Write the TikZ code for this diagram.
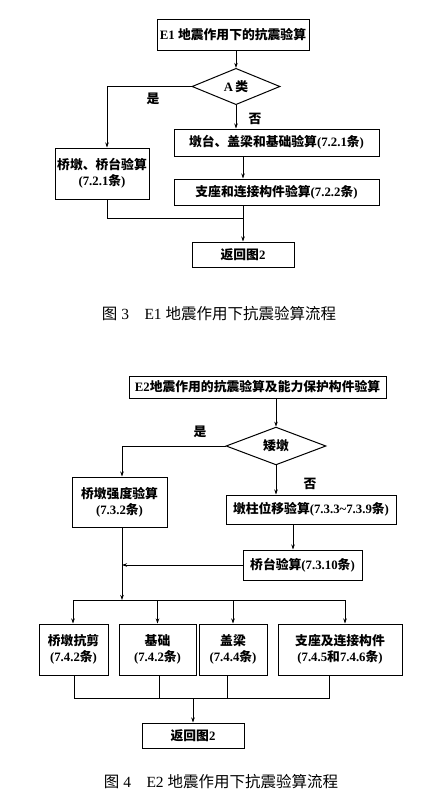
\documentclass[tikz,border=0pt]{standalone}
\usepackage{fontspec}
\setmainfont{Liberation Serif}
\newfontfamily\cjk{Noto Sans CJK SC}
\usetikzlibrary{shapes.geometric,arrows.meta}
\newcommand\zh[1]{{\cjk #1}}
\begin{document}
\begin{tikzpicture}[x=1pt,y=-1pt,
  box/.style={draw, line width=1pt, inner sep=0pt, align=center,
    font=\fontsize{12.8}{16}\selectfont\bfseries},
  dia/.style={diamond, draw, line width=1pt, inner sep=0pt,
    font=\fontsize{12.8}{16}\selectfont\bfseries},
  lbl/.style={inner sep=0pt, font=\fontsize{12.8}{16}\selectfont\bfseries},
  captxt/.style={inner sep=0pt, font=\fontsize{15.5}{18}\selectfont},
  arr/.style={-{Stealth[length=5pt,width=3.5pt]}, line width=0.7pt},
  ln/.style={line width=0.7pt}]
\path[use as bounding box, fill=white] (0,0) rectangle (441,811);

% ---------- Figure 3 ----------
\node[box, minimum width=152pt, minimum height=31pt] (e1) at (233,34.5) {E1 \zh{地震作用下的抗震验算}};
\node[dia, minimum width=88pt, minimum height=35pt] (dA) at (236,86.5) {A\,\zh{类}};
\node[box, minimum width=94pt, minimum height=51pt] (lb) at (102,173.5) {\zh{桥墩、桥台验算}\\(7.2.1\zh{条})};
\node[box, minimum width=205pt, minimum height=27pt] (b1) at (276.5,142.5) {\zh{墩台、盖梁和基础验算}(7.2.1\zh{条})};
\node[box, minimum width=205pt, minimum height=26pt] (b2) at (276.5,192) {\zh{支座和连接构件验算}(7.2.2\zh{条})};
\node[box, minimum width=102pt, minimum height=25pt] (r1) at (243,254.5) {\zh{返回图}2};
\node[captxt] (c3) at (219,314) {\zh{图} 3\quad E1 \zh{地震作用下抗震验算流程}};

\node[lbl] (yes1) at (153,99) {\zh{是}};
\node[lbl] (no1) at (255,119) {\zh{否}};

\draw[arr] (dA.north |- e1.south) -- (dA.north);
\coordinate (yA) at (107,86.5);
\draw[arr] (dA.west) -- (yA) -- (yA |- lb.north);
\draw[arr] (dA.south) -- (dA.south |- b1.north);
\coordinate (v1) at (243,170);
\draw[arr] (v1 |- b1.south) -- (v1 |- b2.north);
\draw[arr] (r1.north |- b2.south) -- (r1.north);
\coordinate (j1) at (243,218);
\draw[ln] (yA |- lb.south) -- (yA |- j1) -- (j1);

% ---------- Figure 4 ----------
\node[box, minimum width=257pt, minimum height=22pt] (e2) at (257.5,387) {E2\zh{地震作用的抗震验算及能力保护构件验算}};
\node[dia, minimum width=100pt, minimum height=36pt] (dB) at (276,446) {\zh{矮墩}};
\node[box, minimum width=95pt, minimum height=50pt] (lb2) at (119.5,502) {\zh{桥墩强度验算}\\(7.3.2\zh{条})};
\node[box, minimum width=170pt, minimum height=29pt] (d1) at (311,509.5) {\zh{墩柱位移验算}(7.3.3\textasciitilde7.3.9\zh{条})};
\node[box, minimum width=119pt, minimum height=30pt] (d2) at (302.5,565) {\zh{桥台验算}(7.3.10\zh{条})};

\node[lbl] (yes2) at (200,432) {\zh{是}};
\node[lbl] (no2) at (310,484) {\zh{否}};

\node[box, minimum width=69pt, minimum height=51pt] (q1) at (73.5,649.5) {\zh{桥墩抗剪}\\(7.4.2\zh{条})};
\node[box, minimum width=77pt, minimum height=51pt] (q2) at (157.5,649.5) {\zh{基础}\\(7.4.2\zh{条})};
\node[box, minimum width=68pt, minimum height=51pt] (q3) at (233,649.5) {\zh{盖梁}\\(7.4.4\zh{条})};
\node[box, minimum width=124pt, minimum height=51pt] (q4) at (340,649.5) {\zh{支座及连接构件}\\(7.4.5\zh{和}7.4.6\zh{条})};
\node[box, minimum width=102pt, minimum height=25pt] (r2) at (193,735.5) {\zh{返回图}2};
\node[captxt] (c4) at (221,782) {\zh{图} 4\quad E2 \zh{地震作用下抗震验算流程}};

\draw[arr] (dB.north |- e2.south) -- (dB.north);
\coordinate (yB) at (122,446);
\draw[arr] (dB.west) -- (yB) -- (yB |- lb2.north);
\draw[arr] (dB.south) -- (dB.south |- d1.north);
\coordinate (v2) at (293,540);
\draw[arr] (v2 |- d1.south) -- (v2 |- d2.north);
\draw[arr] (d2.west) -- (yB |- d2.west);
\coordinate (h1) at (122,600);
\draw[arr] (yB |- lb2.south) -- (h1);

\coordinate (hl) at (73,600);
\coordinate (hr) at (345,600);
\draw[ln] (hl) -- (hr);
\draw[arr] (hl) -- (hl |- q1.north);
\draw[arr] (q2.north |- hl) -- (q2.north);
\draw[arr] (q3.north |- hl) -- (q3.north);
\draw[arr] (hr) -- (hr |- q4.north);

\coordinate (bl) at (74,698);
\coordinate (br) at (329,698);
\coordinate (m2) at (159,698);
\coordinate (m3) at (227,698);
\draw[ln] (bl |- q1.south) -- (bl) -- (br) -- (br |- q4.south);
\draw[ln] (m2 |- q2.south) -- (m2);
\draw[ln] (m3 |- q3.south) -- (m3);
\draw[arr] (r2.north |- bl) -- (r2.north);
\end{tikzpicture}
\end{document}
